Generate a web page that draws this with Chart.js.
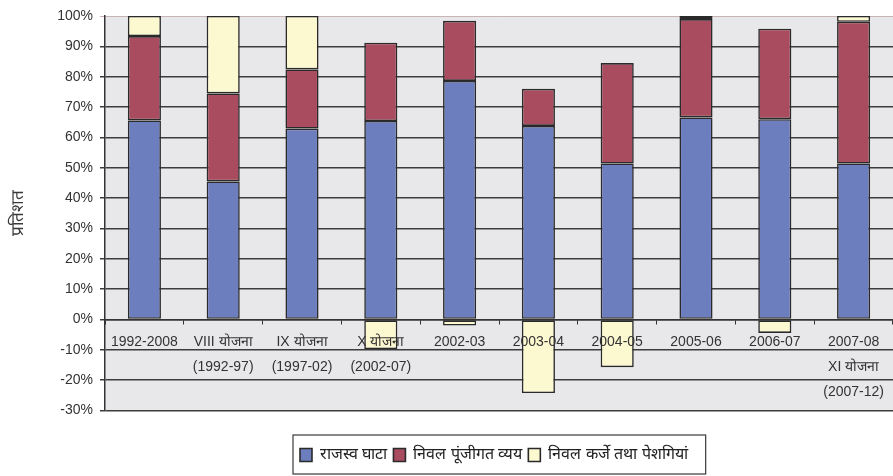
<!DOCTYPE html>
<html>
<head>
<meta charset="utf-8">
<script src="https://cdn.jsdelivr.net/npm/chart.js@4"></script>
<style>
  html, body { margin: 0; padding: 0; background: #fff; overflow: hidden; }
  #wrap { width: 893px; height: 476px; }
</style>
</head>
<body>
<div id="wrap"><canvas id="deficitChart" width="893" height="476"></canvas></div>
<script>
const categories = [
  '1992-2008',
  ['VIII योजना', '(1992-97)'],
  ['IX योजना', '(1997-02)'],
  ['X योजना', '(2002-07)'],
  '2002-03', '2003-04', '2004-05', '2005-06', '2006-07',
  ['2007-08', 'XI योजना', '(2007-12)']
];
const seriesNames = ['राजस्व घाटा', 'निवल पूंजीगत व्यय', 'निवल कर्जे तथा पेशगियां'];
const revenueDeficit = [65.6, 45.5, 62.9, 65.4, 78.6, 63.8, 51.4, 66.6, 66.0, 51.4];
const capitalOutlay = [27.8, 29.0, 19.5, 25.8, 19.8, 12.2, 33.1, 32.4, 29.8, 46.7];
const loansAdvances = [6.6, 25.5, 17.6, -9.7, -2.0, -24.2, -15.7, 1.0, -4.4, 1.9];
const yTicks = { min: -30, max: 100, step: 10 };

const fontFamily = "'Liberation Sans', Arial, sans-serif";

// grey plot background
const plotBackground = {
  id: 'plotBackground',
  beforeDraw(chart) {
    const { ctx, chartArea: a } = chart;
    ctx.save();
    ctx.fillStyle = '#e8e7ea';
    ctx.fillRect(a.left, a.top, a.width, a.height);
    ctx.restore();
  }
};

// legend sits right of centre in the original, with a frame round it
const legendFrame = {
  id: 'legendFrame',
  afterLayout(chart) {
    const lg = chart.legend;
    const pad = lg.options.labels.padding;
    const start = (lg.left + pad + lg.right - lg.lineWidths[0]) / 2;
    const shift = 300 - start;
    lg.left += shift;
    lg.right += shift;
  },
  afterDraw(chart) {
    const boxes = chart.legend.legendHitBoxes;
    if (!boxes || !boxes.length) return;
    const left = Math.min(...boxes.map(b => b.left)) - 7;
    const right = Math.max(...boxes.map(b => b.left + b.width)) + 18;
    const midY = boxes[0].top + boxes[0].height / 2;
    const ctx = chart.ctx;
    ctx.save();
    ctx.strokeStyle = '#3a3a3a';
    ctx.lineWidth = 1.2;
    ctx.strokeRect(left, midY - 20, right - left, 39);
    ctx.restore();
  }
};

const ctx = document.getElementById('deficitChart').getContext('2d');

const deficitChart = new Chart(ctx, {
  type: 'bar',
  data: {
    labels: categories,
    datasets: [
      { label: seriesNames[0], data: revenueDeficit, backgroundColor: '#6c7ebe' },
      { label: seriesNames[1], data: capitalOutlay, backgroundColor: '#a94c5f' },
      { label: seriesNames[2], data: loansAdvances, backgroundColor: '#fcf8cf' }
    ].map(ds => Object.assign(ds, {
      borderColor: '#2a2a2a',
      borderWidth: 1.6,
      borderSkipped: false,
      barPercentage: 1,
      categoryPercentage: 0.42
    }))
  },
  options: {
    responsive: false,
    animation: false,
    devicePixelRatio: 1,
    layout: { padding: { top: 16, right: 0, bottom: 3, left: 0 } },
    plugins: {
      tooltip: { enabled: false },
      legend: {
        position: 'bottom',
        title: { display: true, text: '', font: { size: 12, lineHeight: 1.2 }, padding: { top: 0, bottom: 16 } },
        labels: {
          boxWidth: 12,
          boxHeight: 13,
          padding: 6,
          color: '#222',
          font: { family: fontFamily, size: 16 }
        }
      }
    },
    scales: {
      x: {
        stacked: true,
        position: { y: 0 },
        offset: true,
        grid: { drawOnChartArea: false, drawTicks: true, tickLength: 4, offset: true, color: '#333' },
        border: { display: true, color: '#333', width: 1.5 },
        ticks: {
          z: 1,
          autoSkip: false,
          maxRotation: 0,
          padding: 6,
          color: '#333',
          font: { family: fontFamily, size: 14, lineHeight: 1.8 }
        }
      },
      y: {
        stacked: true,
        min: yTicks.min,
        max: yTicks.max,
        ticks: {
          stepSize: yTicks.step,
          callback: v => v + '%',
          color: '#333',
          padding: 7,
          font: { family: fontFamily, size: 14 }
        },
        grid: {
          color: c => c.tick && c.tick.value === yTicks.max ? '#c8b4b4' : '#3c3c3c',
          lineWidth: c => c.tick && c.tick.value === yTicks.max ? 1 : 1.5,
          tickLength: 5
        },
        border: { color: '#333', width: 1.5 },
        title: {
          display: true,
          text: 'प्रतिशत',
          color: '#3a3a3a',
          font: { family: fontFamily, size: 17 },
          padding: { top: 8, bottom: 0 }
        },
        afterFit(scale) { scale.width = 105; }
      }
    }
  },
  plugins: [plotBackground, legendFrame]
});
</script>
</body>
</html>
